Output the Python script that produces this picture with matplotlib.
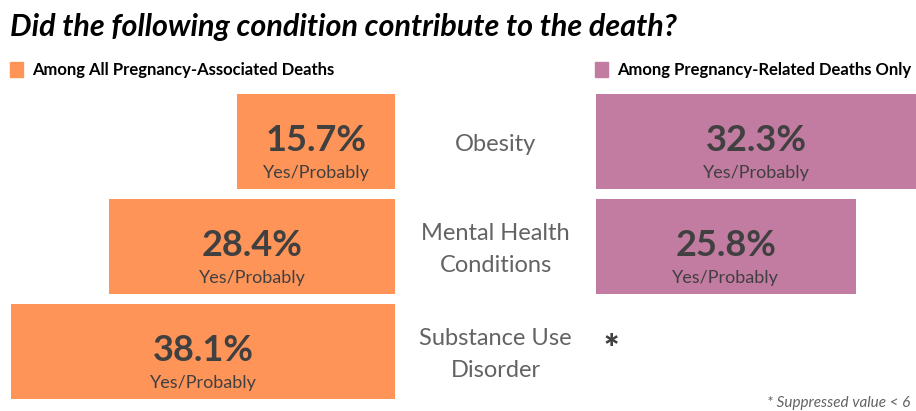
import matplotlib.pyplot as plt

# data
categories = ["Obesity", "Mental Health\nConditions", "Substance Use\nDisorder"]
all_assoc = [15.7, 28.4, 38.1]          # among all pregnancy-associated deaths
related_only = [32.3, 25.8, None]       # None = suppressed value
sub_label = "Yes/Probably"

orange = "#FF9459"
purple = "#C27BA1"
dark = "#404040"
grey = "#636363"

plt.rcParams['font.family'] = ['Lato', 'DejaVu Sans']

W, H = 916, 411
fig = plt.figure(figsize=(W / 100, H / 100), dpi=100)

px_per_pct = 10.07
row_top, row_bot = 89, 404
ax_b = 1 - row_bot / H
ax_h = (row_bot - row_top) / H

# left panel, bars grow leftward from the centre gap
left_x0, left_x1 = 0, 395
axl = fig.add_axes([left_x0 / W, ax_b, (left_x1 - left_x0) / W, ax_h])
axl.set_xlim((left_x1 - left_x0) / px_per_pct, 0)
# right panel
right_x0, right_x1 = 596, 916
axr = fig.add_axes([right_x0 / W, ax_b, (right_x1 - right_x0) / W, ax_h])
r_max = (right_x1 - right_x0) / px_per_pct
axr.set_xlim(0, r_max)

rows = list(range(len(categories)))
for ax in (axl, axr):
    ax.set_ylim(len(categories) - 0.5, -0.5)
    ax.axis("off")

axl.barh(rows, all_assoc, height=0.905, color=orange)
for i, v in enumerate(all_assoc):
    axl.text(v / 2, i - 0.01, f"{v}%", ha="center", va="center",
             fontsize=26, fontweight="bold", color=dark)
    axl.text(v / 2, i + 0.30, sub_label, ha="center", va="center",
             fontsize=13, color=dark)

for i, v in enumerate(related_only):
    if v is None:
        axr.text(1.5, i - 0.02, "*", ha="center", va="center",
                 fontsize=26, fontweight="heavy", color=dark)
        continue
    axr.barh(i, v, height=0.905, color=purple)
    c = min(v, r_max) / 2
    axr.text(c, i - 0.01, f"{v}%", ha="center", va="center",
             fontsize=26, fontweight="bold", color=dark)
    axr.text(c, i + 0.30, sub_label, ha="center", va="center",
             fontsize=13, color=dark)

# category labels in the middle gap
for i, cat in enumerate(categories):
    y = 1 - (row_top + 3 + (i + 0.5) * 105) / H
    fig.text(495.5 / W, y, cat, ha="center", va="center", fontsize=17,
             color=grey, linespacing=1.6)

fig.text(10 / W, 1 - 27 / H, "Did the following condition contribute to the death?",
         ha="left", va="center", fontsize=22, fontweight="bold",
         fontstyle="italic", color="black")

# legend squares and labels
legend_items = [("Among All Pregnancy-Associated Deaths", orange, 10),
                ("Among Pregnancy-Related Deaths Only", purple, 595)]
for label, col, x in legend_items:
    fig.patches.append(plt.Rectangle((x / W, 1 - 77 / H), 13 / W, 15 / H,
                                     transform=fig.transFigure, color=col))
    fig.text((x + 22) / W, 1 - 70 / H, label, ha="left", va="center",
             fontsize=12, fontweight="bold", color="black")

fig.text(910 / W, 1 - 403 / H, "* Suppressed value < 6", ha="right",
         va="center", fontsize=11, fontstyle="italic", color=grey)

fig.savefig("out.png", dpi=100)
